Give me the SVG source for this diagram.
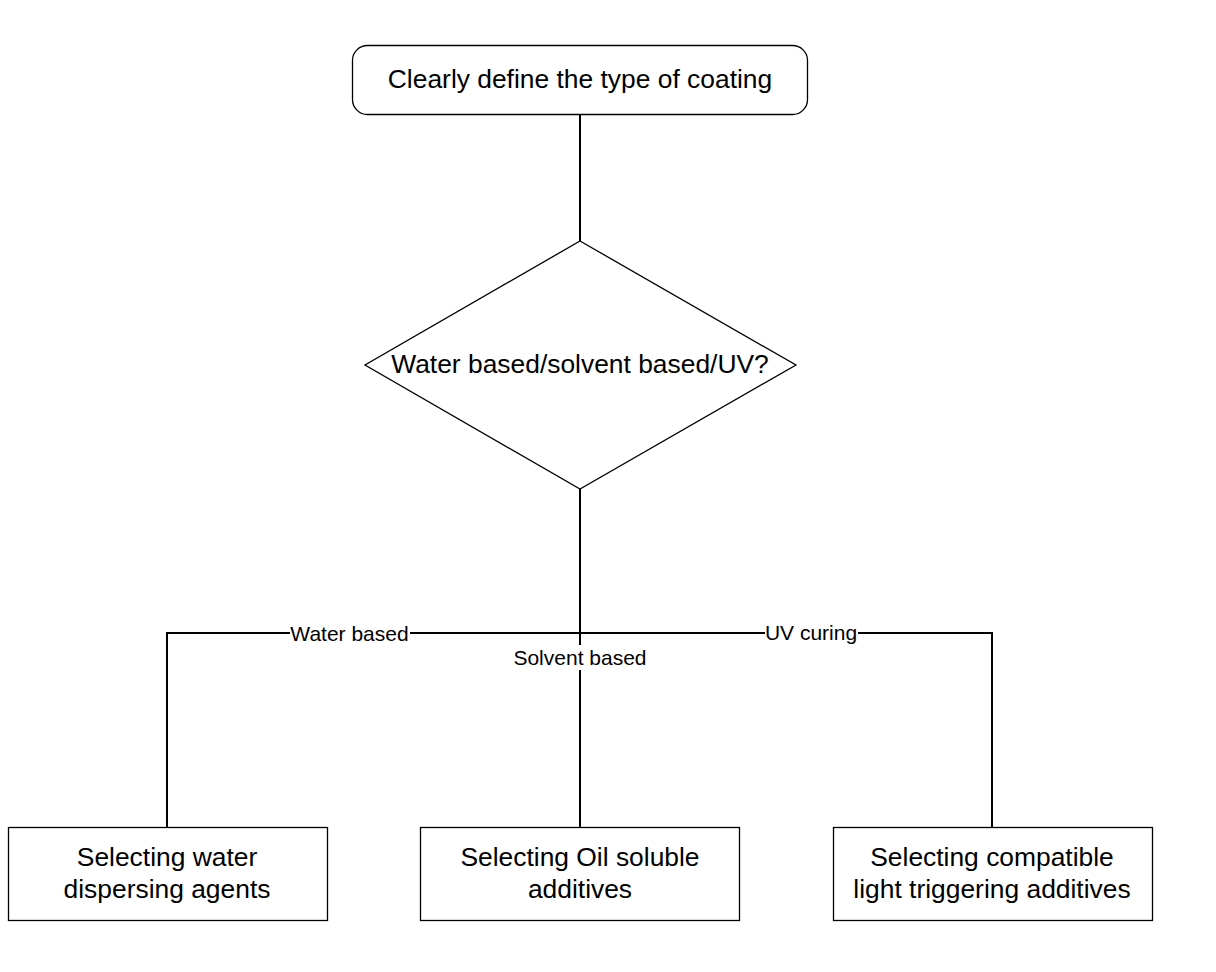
<svg xmlns="http://www.w3.org/2000/svg" width="1216" height="972" viewBox="0 0 1216 972">
<style>
.shape{fill:#fff;stroke:#000;stroke-width:1.3}
.t{font-family:"Liberation Sans",Arial,sans-serif;font-size:26.4px;fill:#000;text-anchor:middle}
.lbl{font-family:"Liberation Sans",Arial,sans-serif;font-size:21px;fill:#000;text-anchor:middle;dominant-baseline:central}
.c{fill:none;stroke:#000;stroke-width:2}
.bg{fill:#fff}
</style>
<rect width="1216" height="972" fill="#fff"/>
<g id="connectors">
<path class="c" d="M580,114 V241"/>
<path class="c" d="M580,489 V633 H167 V827"/>
<path class="c" d="M580,633 H992 V827"/>
<path class="c" d="M580,633 V827"/>
<rect class="bg" x="290" y="622" width="120" height="22"/>
<text class="lbl" x="349.5" y="633">Water based</text>
<rect class="bg" x="765" y="621" width="93" height="22"/>
<text class="lbl" x="811" y="632">UV curing</text>
<rect class="bg" x="512" y="645" width="136" height="25"/>
<text class="lbl" x="580" y="657">Solvent based</text>
</g>
<g id="start">
<rect class="shape" x="352.5" y="45.5" width="455" height="69" rx="15"/>
<text class="t" x="580" y="88">Clearly define the type of coating</text>
</g>
<g id="decision">
<polygon class="shape" points="580,241 796,365 580,489 365,365"/>
<text class="t" x="580" y="373">Water based/solvent based/UV?</text>
</g>
<g id="water">
<rect class="shape" x="8.5" y="827.5" width="319" height="93"/>
<text class="t" x="167" y="866">Selecting water</text>
<text class="t" x="167" y="898">dispersing agents</text>
</g>
<g id="oil">
<rect class="shape" x="420.5" y="827.5" width="319" height="93"/>
<text class="t" x="580" y="866">Selecting Oil soluble</text>
<text class="t" x="580" y="898">additives</text>
</g>
<g id="uv">
<rect class="shape" x="833.5" y="827.5" width="319" height="93"/>
<text class="t" x="992" y="866">Selecting compatible</text>
<text class="t" x="992" y="898">light triggering additives</text>
</g>
</svg>
